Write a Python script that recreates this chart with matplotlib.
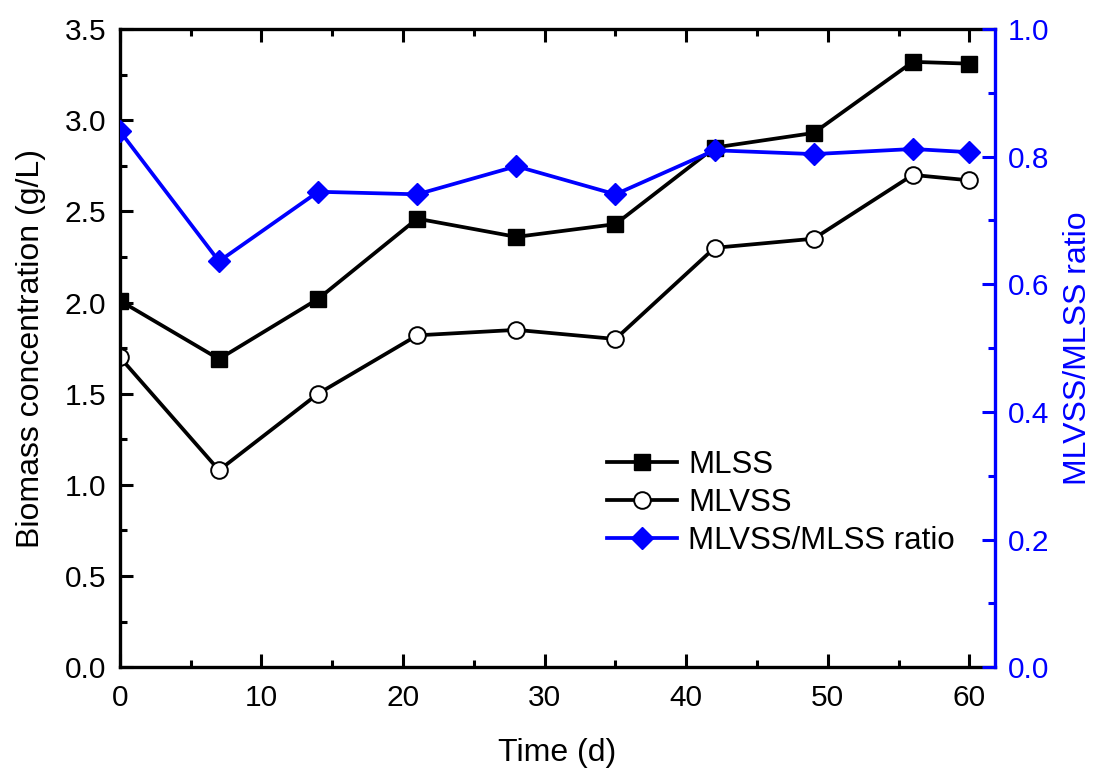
import numpy as np
import matplotlib
matplotlib.use('Agg')
import matplotlib.pyplot as plt
from matplotlib.ticker import MultipleLocator

plt.rcParams['font.family'] = ['Liberation Sans', 'DejaVu Sans']

# data
time_d = [0, 7, 14, 21, 28, 35, 42, 49, 56, 60]
mlss = [2.01, 1.69, 2.02, 2.46, 2.36, 2.43, 2.85, 2.93, 3.32, 3.31]
mlvss = [1.70, 1.08, 1.50, 1.82, 1.85, 1.80, 2.30, 2.35, 2.70, 2.67]
ratio = [0.840, 0.636, 0.745, 0.741, 0.785, 0.741, 0.810, 0.804, 0.812, 0.807]

blue = '#0000ff'
fs = 21.5
lfs = 23

fig = plt.figure(figsize=(11, 7.74), dpi=100)
ax = fig.add_axes([0.109, 0.138, 0.7955, 0.8245])
ax2 = ax.twinx()

l1, = ax.plot(time_d, mlss, '-s', color='black', lw=2.7, ms=12,
              mfc='black', mec='black', label='MLSS')
l2, = ax.plot(time_d, mlvss, '-o', color='black', lw=2.7, ms=12,
              mfc='white', mec='black', mew=1.4, label='MLVSS')
l3, = ax2.plot(time_d, ratio, '-D', color=blue, lw=2.7, ms=11.5,
               mfc=blue, mec=blue, label='MLVSS/MLSS ratio')

ax.set_xlim(0, 61.8)
ax.set_ylim(0, 3.5)
ax2.set_ylim(0, 1.0)

ax.xaxis.set_major_locator(MultipleLocator(10))
ax.xaxis.set_minor_locator(MultipleLocator(5))
ax.yaxis.set_major_locator(MultipleLocator(0.5))
ax.yaxis.set_minor_locator(MultipleLocator(0.25))
ax2.yaxis.set_major_locator(MultipleLocator(0.2))
ax2.yaxis.set_minor_locator(MultipleLocator(0.1))
ax.yaxis.set_major_formatter(plt.FormatStrFormatter('%.1f'))
ax2.yaxis.set_major_formatter(plt.FormatStrFormatter('%.1f'))

ax.tick_params(axis='both', which='both', direction='in', top=True, right=False,
               labelsize=fs, width=2.2)
ax.tick_params(axis='x', which='both', pad=12)
ax.tick_params(axis='y', which='both', pad=10)
ax.tick_params(which='major', length=9.5)
ax.tick_params(which='minor', length=5)
ax2.tick_params(axis='y', which='both', direction='in', colors=blue,
                labelsize=fs, width=2.2, pad=9)
ax2.tick_params(which='major', length=9.5)
ax2.tick_params(which='minor', length=5)

for s in ax.spines.values():
    s.set_linewidth(2.4)
for s in ['left', 'top', 'bottom']:
    ax2.spines[s].set_visible(False)
ax2.spines['right'].set_color(blue)
ax2.spines['right'].set_linewidth(2.4)
ax.spines['right'].set_visible(False)

ax.set_xlabel('Time (d)', fontsize=lfs, labelpad=19)
ax.set_ylabel('Biomass concentration (g/L)', fontsize=lfs, labelpad=13)
ax2.set_ylabel('MLVSS/MLSS ratio', fontsize=lfs, color=blue, labelpad=10)

ax.legend(handles=[l1, l2, l3], loc='upper left', bbox_to_anchor=(0.542, 0.36),
          frameon=False, fontsize=22.5, handlelength=2.25, handletextpad=0.35,
          labelspacing=0.26, borderaxespad=0)

fig.savefig('out.png', dpi=100)
